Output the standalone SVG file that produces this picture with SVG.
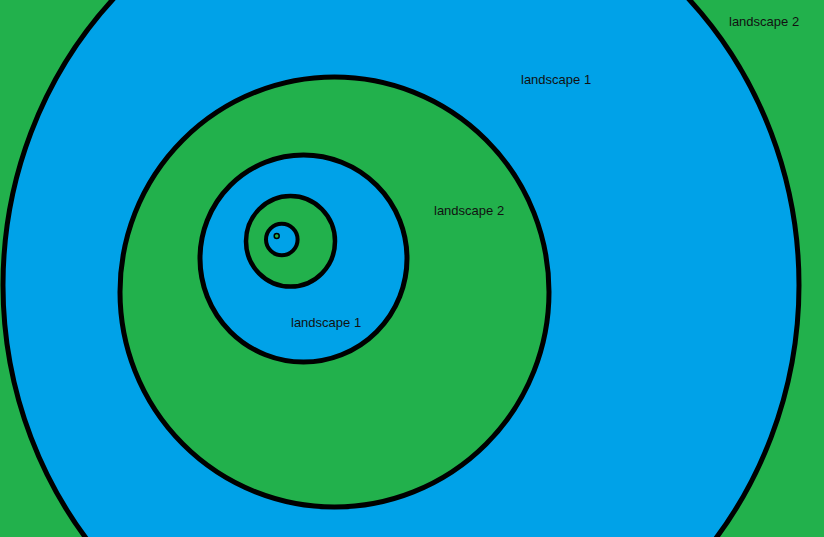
<svg xmlns="http://www.w3.org/2000/svg" width="824" height="537" viewBox="0 0 824 537">
<style>
.g{fill:#22b14c;stroke:#000}
.b{fill:#00a2e8;stroke:#000}
text{font-family:"Liberation Sans",Arial,sans-serif;font-size:13px;fill:#111}
</style>
<rect id="background" width="824" height="537" fill="#22b14c"/>
<g id="ring1"><ellipse class="b" cx="401" cy="285" rx="398" ry="414" stroke-width="5"/></g>
<g id="ring2"><ellipse class="g" cx="334.5" cy="292" rx="214.5" ry="215" stroke-width="5"/></g>
<g id="ring3"><ellipse class="b" cx="303.5" cy="258.5" rx="103.5" ry="103.5" stroke-width="5"/></g>
<g id="ring4"><ellipse class="g" cx="290.5" cy="241.3" rx="44.5" ry="45.3" stroke-width="4.5"/></g>
<g id="ring5"><circle class="b" cx="281.8" cy="239.5" r="15.8" stroke-width="4"/></g>
<g id="ring6"><circle class="g" cx="276.7" cy="236" r="2.5" stroke-width="1.5"/></g>
<g id="labels">
<text x="729" y="26">landscape 2</text>
<text x="521" y="84">landscape 1</text>
<text x="434" y="215">landscape 2</text>
<text x="291" y="327">landscape 1</text>
</g>
<g id="connectors"/>
</svg>
